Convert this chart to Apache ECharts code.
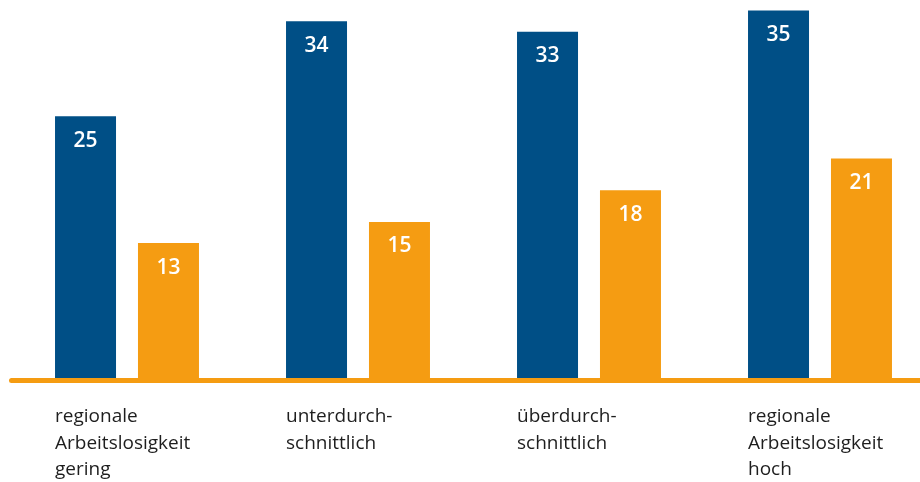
<!DOCTYPE html>
<html>
<head>
<meta charset="utf-8">
<script src="https://cdn.jsdelivr.net/npm/echarts@6/dist/echarts.min.js"></script>
<style>html,body{margin:0;padding:0;background:#fff}#c{width:920px;height:482px}</style>
</head>
<body>
<div id="c"></div>
<script>
var categories = ['regionale\nArbeitslosigkeit\ngering', 'unterdurch-\nschnittlich', 'überdurch-\nschnittlich', 'regionale\nArbeitslosigkeit\nhoch'];
var seriesBlue = [25, 34, 33, 35];
var seriesOrange = [13, 15, 18, 21];

var BLUE = '#004f86';
var ORANGE = '#f59c12';

var chart = echarts.init(document.getElementById('c'), null, {renderer: 'canvas'});
var valueLabel = {
  show: true,
  position: 'insideTop',
  distance: 14,
  color: '#ffffff',
  fontFamily: 'Open Sans',
  fontSize: 21,
  fontWeight: 600
};
chart.setOption({
  animation: false,
  backgroundColor: '#ffffff',
  grid: {left: 11.5, width: 924, top: 0, bottom: 101.5, containLabel: false, outerBoundsMode: 'none'},
  xAxis: {
    type: 'category',
    data: categories,
    z: 5,
    axisLine: {show: true, lineStyle: {color: ORANGE, width: 5}},
    axisTick: {show: false},
    axisLabel: {
      interval: 0,
      margin: 23,
      verticalAlign: 'top',
      formatter: function (v) {
        return v.split('\n').map(function (l) { return '{a|' + l + '}'; }).join('\n');
      },
      rich: {
        a: {
          width: 144,
          align: 'left',
          fontFamily: 'Open Sans',
          fontSize: 19,
          lineHeight: 26.5,
          color: '#1e1e1e'
        }
      }
    }
  },
  yAxis: {
    type: 'value',
    min: 0,
    max: 36,
    show: false,
    splitLine: {show: false}
  },
  series: [
    {type: 'bar', data: seriesBlue, barWidth: 61, barGap: '36%', itemStyle: {color: BLUE}, label: valueLabel},
    {type: 'bar', data: seriesOrange, barWidth: 61, barGap: '36%', itemStyle: {color: ORANGE}, label: valueLabel}
  ]
});
</script>
</body>
</html>
